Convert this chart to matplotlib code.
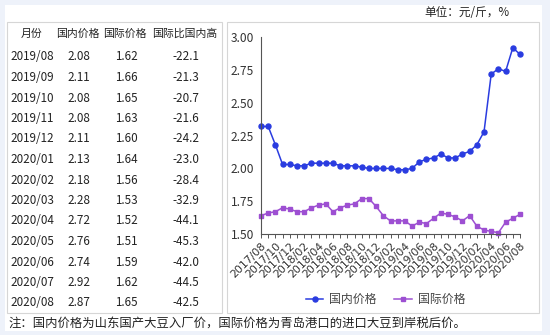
import numpy as np
import matplotlib.pyplot as plt
from matplotlib.patches import Rectangle

plt.rcParams['font.family'] = ['Noto Sans CJK SC', 'DejaVu Sans']

# monthly soybean prices, 2017/08 - 2020/08 (yuan per jin)
months = ["%d/%02d" % (2017 + (7 + i) // 12, (7 + i) % 12 + 1) for i in range(37)]
domestic = [2.32, 2.32, 2.18, 2.03, 2.03, 2.02, 2.02, 2.04, 2.04, 2.04, 2.04, 2.02,
            2.02, 2.02, 2.01, 2.00, 2.00, 2.00, 2.00, 1.99, 1.99, 2.00, 2.05, 2.07,
            2.08, 2.11, 2.08, 2.08, 2.11, 2.13, 2.18, 2.28, 2.72, 2.76, 2.74, 2.92, 2.87]
intl = [1.64, 1.66, 1.67, 1.70, 1.69, 1.67, 1.67, 1.70, 1.72, 1.73, 1.67, 1.70,
        1.72, 1.73, 1.77, 1.77, 1.71, 1.64, 1.60, 1.60, 1.60, 1.56, 1.59, 1.58,
        1.62, 1.66, 1.65, 1.63, 1.60, 1.64, 1.56, 1.53, 1.52, 1.51, 1.59, 1.62, 1.65]
# intl vs domestic gap (%) for the last 13 months
gap = [-22.1, -21.3, -20.7, -21.6, -24.2, -23.0, -28.4, -32.9, -44.1, -45.3, -42.0, -44.5, -42.5]
headers = ["月份", "国内价格", "国际价格", "国际比国内高"]

blue = "#2a3ce0"
purple = "#9d4fd2"

W, H = 550, 335
fig = plt.figure(figsize=(W / 100, H / 100), dpi=100)
fig.patch.set_facecolor("#eef2fa")

def box(x0, y0, x1, y1, fc, ec=None):
    # rectangle given in pixel coords (top-left origin)
    fig.patches.append(Rectangle((x0 / W, 1 - y1 / H), (x1 - x0) / W, (y1 - y0) / H,
                                 transform=fig.transFigure, facecolor=fc,
                                 edgecolor=ec if ec else "none", lw=0.8, zorder=-5))

box(5, 5, 542, 331, "white")
box(7, 22, 222, 313, "white", "#d6d6d6")
box(227, 22, 539, 313, "white", "#d6d6d6")

def txt(x, y, s, **kw):
    fig.text(x / W, 1 - y / H, s, va="center", **kw)

# table on the left
txt(32, 34, headers[0], ha="center", fontsize=7.8, color="#222222")
txt(78, 34, headers[1], ha="center", fontsize=7.8, color="#222222")
txt(125, 34, headers[2], ha="center", fontsize=7.8, color="#222222")
txt(185, 34, headers[3], ha="center", fontsize=7.8, color="#222222")
for k in range(13):
    i = 24 + k
    y = 57 + k * 20.5
    txt(10, y, months[i], ha="left", fontsize=8.4, color="#222222")
    txt(79, y, "%.2f" % domestic[i], ha="center", fontsize=8.4, color="#222222")
    txt(126, y, "%.2f" % intl[i], ha="center", fontsize=8.4, color="#222222")
    txt(186, y, "%.1f" % gap[k], ha="center", fontsize=8.4, color="#222222")

txt(467, 12, "单位：元/斤，%", ha="center", fontsize=8.4, color="#222222")
txt(8, 323, "注：国内价格为山东国产大豆入厂价，国际价格为青岛港口的进口大豆到岸税后价。",
    ha="left", fontsize=8.9, color="#222222")

# price chart
ax = fig.add_axes([261 / W, 1 - 234 / H, (520 - 261) / W, (234 - 37.3) / H])
ax.set_facecolor("none")
x = np.arange(len(months))
ax.plot(x, domestic, color=blue, lw=1.1, marker="o", ms=3.6, label="国内价格", clip_on=False)
ax.plot(x, intl, color=purple, lw=1.1, marker="s", ms=3.4, label="国际价格", clip_on=False)
ax.set_xlim(0, 36)
ax.set_ylim(1.5, 3.0)
ax.set_yticks([1.5, 1.75, 2.0, 2.25, 2.5, 2.75, 3.0])
ax.set_yticklabels(["%.2f" % v for v in ax.get_yticks()])
ax.set_xticks(x)
ax.set_xticklabels([m if i % 2 == 0 else "" for i, m in enumerate(months)],
                   rotation=45, ha="right", rotation_mode="anchor")
ax.tick_params(axis="y", length=0, labelsize=8.6, colors="#333333", pad=5)
ax.tick_params(axis="x", length=3, width=0.7, color="#555555",
               labelcolor="#333333", pad=2)
for s in ["top", "right"]:
    ax.spines[s].set_visible(False)
for s in ["left", "bottom"]:
    ax.spines[s].set_color("#555555")
    ax.spines[s].set_linewidth(0.8)
for lab in ax.get_xticklabels():
    lab.set_fontfamily(["DejaVu Sans"])
    lab.set_fontsize(7.8)

ax.legend(loc="upper center", bbox_to_anchor=(0.48, -0.245), ncol=2, frameon=False,
          fontsize=8.6, handlelength=1.5, handletextpad=0.5, columnspacing=1.4,
          labelcolor="#444444")

fig.savefig("out.png", dpi=100, facecolor=fig.get_facecolor())
